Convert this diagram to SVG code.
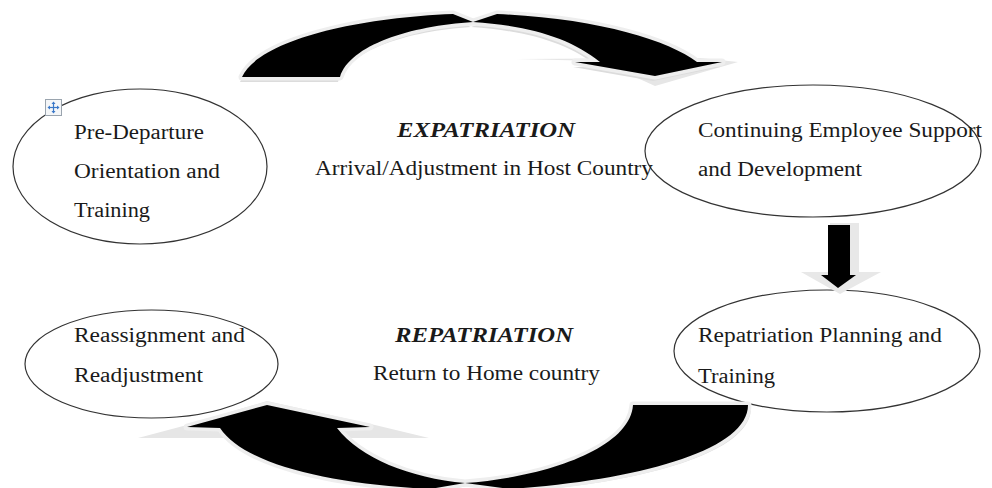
<svg xmlns="http://www.w3.org/2000/svg" width="992" height="488" viewBox="0 0 992 488">
<style>
.node ellipse{fill:#fff;stroke:#333;stroke-width:1.2}
text{font-family:"Liberation Serif","Times New Roman",serif;font-size:20px;fill:#1a1a1a}
.hd{font-weight:bold;font-style:italic}
.shadow{fill:#dcdcdc}
.halo{fill:#f2f2f2;stroke:#eeeeee;stroke-width:7;stroke-linejoin:round}
.arrow{fill:#000}
</style>
<rect width="992" height="488" fill="#fff"/>
<g id="node-predeparture" class="node">
<ellipse cx="140" cy="166.5" rx="127" ry="77.5"/>
<text x="74" y="139" textLength="130" lengthAdjust="spacingAndGlyphs">Pre-Departure</text>
<text x="74" y="178" textLength="146" lengthAdjust="spacingAndGlyphs">Orientation and</text>
<text x="74" y="217" textLength="76" lengthAdjust="spacingAndGlyphs">Training</text>
</g>
<g id="node-continuing" class="node">
<ellipse cx="813" cy="151" rx="168" ry="66"/>
<text x="698" y="137" textLength="284" lengthAdjust="spacingAndGlyphs">Continuing Employee Support</text>
<text x="698" y="176" textLength="164" lengthAdjust="spacingAndGlyphs">and Development</text>
</g>
<g id="node-reassignment" class="node">
<ellipse cx="151.5" cy="364" rx="126.5" ry="54"/>
<text x="74" y="342" textLength="171" lengthAdjust="spacingAndGlyphs">Reassignment and</text>
<text x="74" y="382" textLength="129" lengthAdjust="spacingAndGlyphs">Readjustment</text>
</g>
<g id="node-repatriation-planning" class="node">
<ellipse cx="827" cy="351" rx="153" ry="61"/>
<text x="698" y="342" textLength="244" lengthAdjust="spacingAndGlyphs">Repatriation Planning and</text>
<text x="698" y="383" textLength="77" lengthAdjust="spacingAndGlyphs">Training</text>
</g>
<g id="label-expatriation">
<text class="hd" x="397" y="137" textLength="178" lengthAdjust="spacingAndGlyphs">EXPATRIATION</text>
<text x="315" y="175" textLength="338" lengthAdjust="spacingAndGlyphs">Arrival/Adjustment in Host Country</text>
</g>
<g id="label-repatriation">
<text class="hd" x="395" y="342" textLength="178" lengthAdjust="spacingAndGlyphs">REPATRIATION</text>
<text x="373" y="380" textLength="227" lengthAdjust="spacingAndGlyphs">Return to Home country</text>
</g>
<g id="connectors">
<!-- top curved arrow -->
<polygon class="shadow" style="fill:#e6e6e6" points="516,59 600,61 655,86 738,62 700,58"/>
<path class="shadow" transform="translate(-2,5)" d="M 242 77 C 258 42, 350 18, 453 14 L 473 22 L 497 14 C 595 18, 668 40, 697 62 L 722 62 L 655 76 L 575 62 L 600 62 C 570 38, 530 26, 473 22 C 410 26, 350 45, 340 77 Z"/>
<path class="halo" d="M 242 77 C 258 42, 350 18, 453 14 L 473 22 L 497 14 C 595 18, 668 40, 697 62 L 722 62 L 655 76 L 575 62 L 600 62 C 570 38, 530 26, 473 22 C 410 26, 350 45, 340 77 Z"/>
<path class="arrow" d="M 242 77 C 258 42, 350 18, 453 14 L 473 22 L 497 14 C 595 18, 668 40, 697 62 L 722 62 L 655 76 L 575 62 L 600 62 C 570 38, 530 26, 473 22 C 410 26, 350 45, 340 77 Z"/>
<!-- down arrow -->
<polygon style="fill:#e8e8e8" points="830,223 859,223 859,272 881,272 840,294 801,272 830,272"/>
<polygon class="arrow" points="828,225 850,225 850,275 856,275 838,288 821,275 828,275"/>
<!-- bottom curved arrow -->
<polygon style="fill:#e6e6e6" points="138,438 187,425 267,401 375,425 429,438"/>
<path class="shadow" transform="translate(3,3)" d="M 633 405 L 748 405 C 748 450, 640 480, 510 489 L 465 483 L 430 489 C 330 484, 245 465, 220 428 L 187 427 L 267 405 L 370 427 L 337 428 C 360 458, 410 478, 465 483 C 540 478, 630 450, 633 405 Z"/>
<path class="halo" d="M 633 405 L 748 405 C 748 450, 640 480, 510 489 L 465 483 L 430 489 C 330 484, 245 465, 220 428 L 187 427 L 267 405 L 370 427 L 337 428 C 360 458, 410 478, 465 483 C 540 478, 630 450, 633 405 Z"/>
<path class="arrow" d="M 633 405 L 748 405 C 748 450, 640 480, 510 489 L 465 483 L 430 489 C 330 484, 245 465, 220 428 L 187 427 L 267 405 L 370 427 L 337 428 C 360 458, 410 478, 465 483 C 540 478, 630 450, 633 405 Z"/>
</g>
<g id="move-handle">
<rect x="45.5" y="99.5" width="16" height="16" fill="#f4f6f8" stroke="#9aa4ae" stroke-width="1"/>
<g stroke="#3a78c8" stroke-width="1.2">
<line x1="53.5" y1="102.5" x2="53.5" y2="112.5"/>
<line x1="48.5" y1="107.5" x2="58.5" y2="107.5"/>
</g>
<g fill="#3a78c8">
<polygon points="53.5,101.5 51.5,104 55.5,104"/>
<polygon points="53.5,113.5 51.5,111 55.5,111"/>
<polygon points="47.5,107.5 50,105.5 50,109.5"/>
<polygon points="59.5,107.5 57,105.5 57,109.5"/>
</g>
</g>
</svg>
